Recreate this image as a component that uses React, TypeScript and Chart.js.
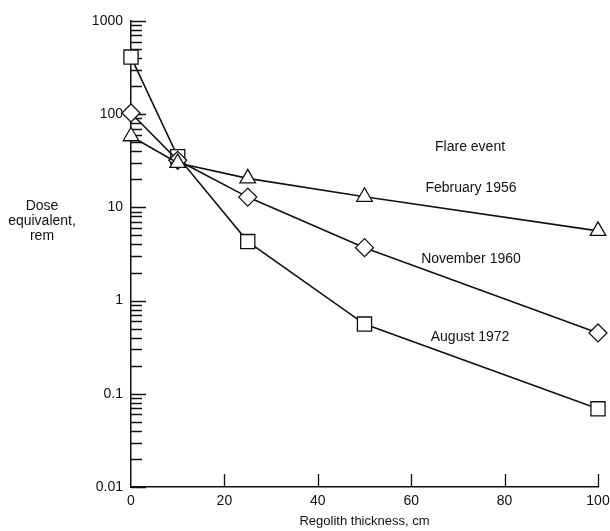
import React, { useEffect, useRef } from "react";
import { Chart, registerables } from "chart.js";

Chart.register(...registerables);

const thickness = [0, 10, 25, 50, 100];
const feb1956 = [58, 30, 20.5, 13, 5.6];
const nov1960 = [103, 32, 12.9, 3.7, 0.45];
const aug1972 = [410, 35, 4.3, 0.56, 0.069];

const xTicks = [0, 20, 40, 60, 80, 100];
const decadeValues = [0.01, 0.1, 1, 10, 100, 1000];
const decadeLabels = ["0.01", "0.1", "1", "10", "100", "1000"];

const seriesNames = ["February 1956", "November 1960", "August 1972"];
const seriesStyles = ["triangle", "rectRot", "rect"];
const seriesRadius = [9, 9, 10];

// annotation texts anchored in data space
const noteTexts = ["Flare event", "February 1956", "November 1960", "August 1972"];
const noteX = [72.6, 72.8, 72.8, 72.6];
const noteY = [44.5, 16.1, 2.79, 0.407];

const yTitleLines = ["Dose", "equivalent,", "rem"];
const xTitle = "Regolith thickness, cm";

const FONT = "'Liberation Sans', Arial, Helvetica, sans-serif";
const INK = "#111";

function allLogTicks(): number[] {
  const out: number[] = [];
  for (let e = -2; e <= 3; e++) {
    for (let m = 1; m <= 9; m++) {
      const v = Number((m * Math.pow(10, e)).toPrecision(6));
      if (v <= 1000) out.push(v);
    }
  }
  return out;
}

const innerTicks = {
  id: "innerTicks",
  beforeDatasetsDraw(chart: any) {
    const { ctx, chartArea, scales } = chart;
    const y = scales.y;
    const x = scales.x;
    ctx.save();
    ctx.strokeStyle = INK;
    ctx.lineWidth = 1.3;
    ctx.beginPath();
    for (const t of y.ticks) {
      const py = Math.round(y.getPixelForValue(t.value)) + 0.5;
      const isMajor = decadeValues.some((d) => Math.abs(d - t.value) < d * 1e-6);
      const len = isMajor ? 15 : 11;
      ctx.moveTo(chartArea.left, py);
      ctx.lineTo(chartArea.left + len, py);
    }
    for (const v of xTicks) {
      if (v === 0) continue;
      const px = Math.round(x.getPixelForValue(v)) + 0.5;
      ctx.moveTo(px, chartArea.bottom);
      ctx.lineTo(px, chartArea.bottom - 13);
    }
    ctx.stroke();
    ctx.restore();
  },
  afterDraw(chart: any) {
    const { ctx, scales } = chart;
    const x = scales.x;
    const y = scales.y;
    ctx.save();
    ctx.fillStyle = INK;
    ctx.font = `14px ${FONT}`;
    ctx.textAlign = "center";
    ctx.textBaseline = "middle";
    noteTexts.forEach((t, i) => {
      ctx.fillText(t, x.getPixelForValue(noteX[i]), y.getPixelForValue(noteY[i]));
    });
    const cy = y.getPixelForValue(7.1);
    yTitleLines.forEach((t, i) => {
      ctx.fillText(t, 42, cy + (i - 1) * 15);
    });
    ctx.restore();
  },
};

export default function App() {
  const ref = useRef<HTMLCanvasElement | null>(null);

  useEffect(() => {
    if (!ref.current) return;
    const seriesData = [feb1956, nov1960, aug1972];
    const datasets = seriesData.map((vals, i) => ({
      label: seriesNames[i],
      data: thickness.map((t, j) => ({ x: t, y: vals[j] })),
      borderColor: INK,
      borderWidth: 1.6,
      pointStyle: seriesStyles[i],
      pointRadius: seriesRadius[i],
      pointBorderWidth: 1.3,
      pointBorderColor: INK,
      pointBackgroundColor: "#fff",
      tension: 0,
      fill: false,
      clip: false as any,
    }));

    const chart = new Chart(ref.current, {
      type: "line",
      data: { datasets },
      options: {
        animation: false,
        responsive: true,
        maintainAspectRatio: false,
        layout: { padding: { top: 21, right: 12, left: 0, bottom: 0 } },
        plugins: {
          legend: { display: false },
          tooltip: { enabled: false },
        },
        scales: {
          x: {
            type: "linear",
            min: 0,
            max: 100,
            afterBuildTicks: (s: any) => {
              s.ticks = xTicks.map((v) => ({ value: v }));
            },
            afterFit: (s: any) => {
              s.height = 44;
              s.paddingLeft = 0;
              s.paddingRight = 0;
            },
            ticks: {
              color: INK,
              font: { family: FONT, size: 14 },
              padding: 6,
              maxRotation: 0,
              autoSkip: false,
            },
            grid: { display: false, drawTicks: false },
            border: { display: true, color: INK, width: 1.5 },
            title: {
              display: true,
              text: xTitle,
              color: INK,
              font: { family: FONT, size: 13 },
              padding: 2,
            },
          },
          y: {
            type: "logarithmic",
            min: 0.01,
            max: 1000,
            afterBuildTicks: (s: any) => {
              s.ticks = allLogTicks().map((v) => ({ value: v }));
            },
            afterFit: (s: any) => {
              s.width = 131;
              s.paddingTop = 0;
              s.paddingBottom = 0;
            },
            ticks: {
              color: INK,
              font: { family: FONT, size: 14 },
              padding: 8,
              autoSkip: false,
              callback: (value: any) => {
                const idx = decadeValues.findIndex(
                  (d) => Math.abs(d - Number(value)) < d * 1e-6
                );
                return idx >= 0 ? decadeLabels[idx] : "";
              },
            },
            grid: { display: false, drawTicks: false },
            border: { display: true, color: INK, width: 1.5 },
          },
        },
      },
      plugins: [innerTicks],
    });
    return () => chart.destroy();
  }, []);

  return (
    <div
      style={{
        position: "absolute",
        left: 0,
        top: 0,
        width: 610,
        height: 531,
        background: "#fff",
      }}
    >
      <canvas ref={ref} />
    </div>
  );
}
